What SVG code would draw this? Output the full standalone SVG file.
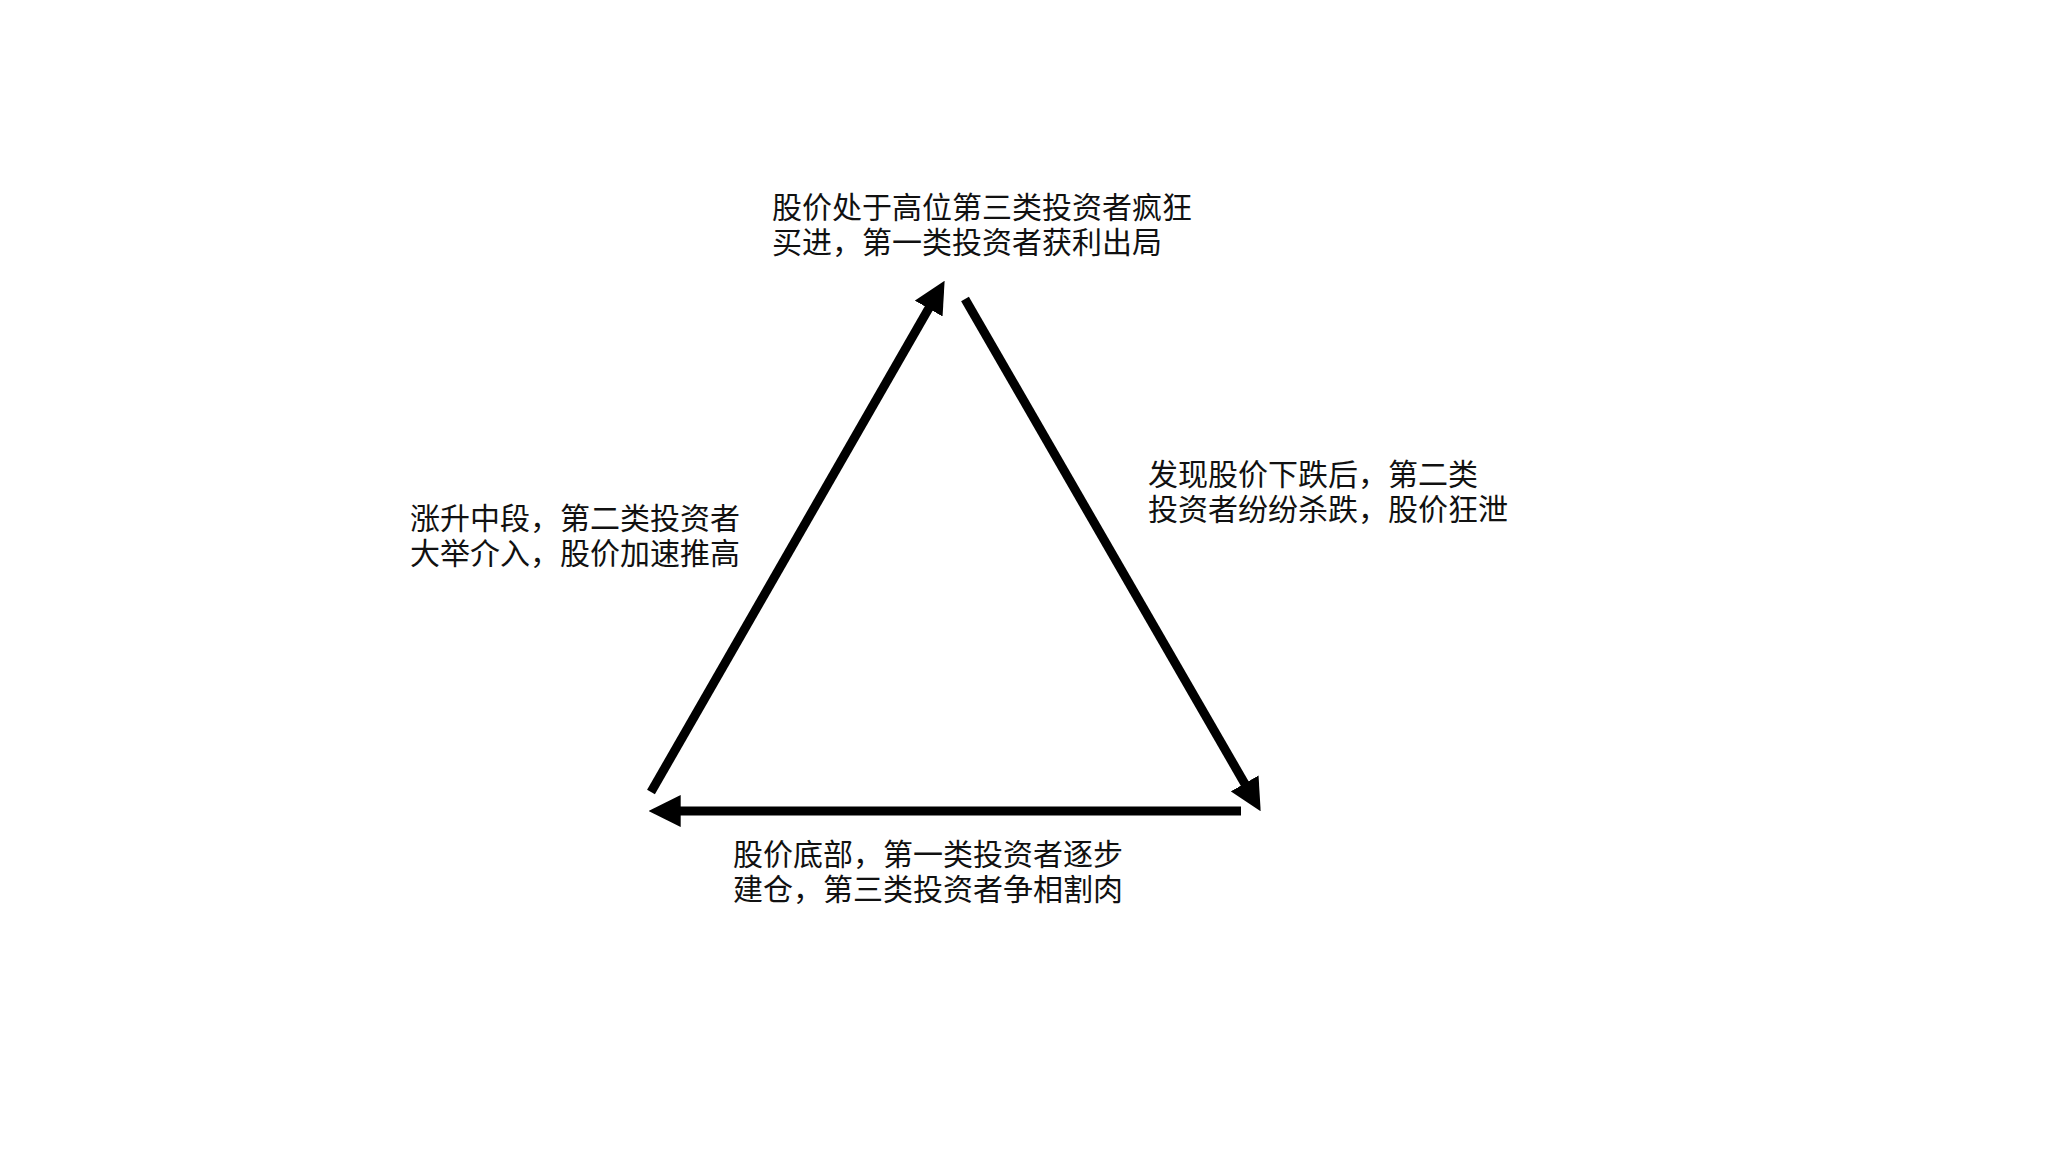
<svg xmlns="http://www.w3.org/2000/svg" width="2048" height="1152" viewBox="0 0 2048 1152">
  <style>
    .lbl { font-family: "Noto Sans CJK SC", "Noto Sans", sans-serif; font-size: 30px; fill: #111111; }
    .conn { stroke: #000000; stroke-width: 9; fill: none; stroke-linecap: butt; }
  </style>
  <defs>
    <marker id="head" markerUnits="userSpaceOnUse" markerWidth="32" markerHeight="32" viewBox="0 0 30 30" refX="10" refY="15" orient="auto">
      <path d="M0,0 L30,15 L0,30 Z" fill="#000000"/>
    </marker>
  </defs>
  <rect width="2048" height="1152" fill="#ffffff"/>
  <g id="connectors">
    <line class="conn" x1="651" y1="792" x2="934" y2="299.3" marker-end="url(#head)"/>
    <line class="conn" x1="965" y1="299" x2="1250" y2="792.7" marker-end="url(#head)"/>
    <line class="conn" x1="1241" y1="811" x2="670" y2="811" marker-end="url(#head)"/>
  </g>
  <g id="node-top">
    <text class="lbl" x="772" y="218"><tspan x="772" y="218">股价处于高位第三类投资者疯狂</tspan><tspan x="772" y="253">买进，第一类投资者获利出局</tspan></text>
  </g>
  <g id="node-left">
    <text class="lbl" x="410" y="529"><tspan x="410" y="529">涨升中段，第二类投资者</tspan><tspan x="410" y="564">大举介入，股价加速推高</tspan></text>
  </g>
  <g id="node-right">
    <text class="lbl" x="1148" y="485"><tspan x="1148" y="485">发现股价下跌后，第二类</tspan><tspan x="1148" y="520">投资者纷纷杀跌，股价狂泄</tspan></text>
  </g>
  <g id="node-bottom">
    <text class="lbl" x="733" y="865"><tspan x="733" y="865">股价底部，第一类投资者逐步</tspan><tspan x="733" y="900">建仓，第三类投资者争相割肉</tspan></text>
  </g>
</svg>
